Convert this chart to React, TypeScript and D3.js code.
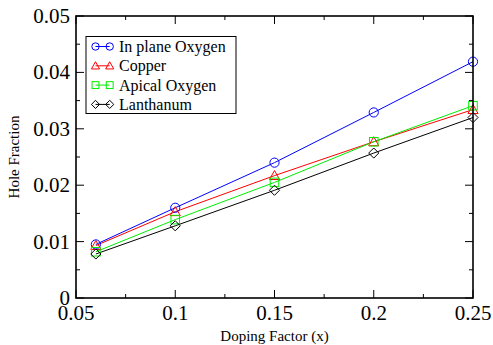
import React, { useRef, useEffect } from "react";
import * as d3 from "d3";

const dopingX = [0.06, 0.1, 0.15, 0.2, 0.25];
const inPlaneOxygen = [0.0095, 0.016, 0.024, 0.0329, 0.0419];
const copper = [0.0093, 0.0153, 0.0217, 0.0277, 0.0334];
const apicalOxygen = [0.0082, 0.0139, 0.0205, 0.0277, 0.0341];
const lanthanum = [0.0078, 0.0128, 0.0191, 0.0257, 0.032];

const seriesNames = ["In plane Oxygen", "Copper", "Apical Oxygen", "Lanthanum"];
const seriesColors = ["#0000ff", "#ff0000", "#00ee00", "#000000"];
const seriesMarkers = ["circle", "triangle", "square", "diamond"];

const xTicks = [0.05, 0.1, 0.15, 0.2, 0.25];
const xTickLabels = ["0.05", "0.1", "0.15", "0.2", "0.25"];
const yTicks = [0, 0.01, 0.02, 0.03, 0.04, 0.05];
const yTickLabels = ["0", "0.01", "0.02", "0.03", "0.04", "0.05"];

const W = 493;
const H = 345;
const margin = { top: 16, right: 20, bottom: 47, left: 76 };

const FONT = "'Liberation Serif', 'Times New Roman', serif";

const drawMarker = (g, kind, x, y, color, s = 4.6) => {
  if (kind === "circle") {
    g.append("circle").attr("cx", x).attr("cy", y).attr("r", s)
      .attr("fill", "none").attr("stroke", color).attr("stroke-width", 1);
  } else if (kind === "triangle") {
    g.append("path")
      .attr("d", `M${x},${y - s * 1.1}L${x + s * 1.1},${y + s * 0.85}L${x - s * 1.1},${y + s * 0.85}Z`)
      .attr("fill", "none").attr("stroke", color).attr("stroke-width", 1);
  } else if (kind === "square") {
    g.append("rect").attr("x", x - s * 0.93).attr("y", y - s * 0.93)
      .attr("width", s * 1.86).attr("height", s * 1.86)
      .attr("fill", "none").attr("stroke", color).attr("stroke-width", 1);
  } else {
    const d = s * 1.1;
    g.append("path")
      .attr("d", `M${x},${y - d}L${x + d},${y}L${x},${y + d}L${x - d},${y}Z`)
      .attr("fill", "none").attr("stroke", color).attr("stroke-width", 1);
  }
};

const Chart = () => {
  const ref = useRef(null);

  useEffect(() => {
    const svg = d3.select(ref.current);
    svg.selectAll("*").remove();

    const x = d3.scaleLinear().domain([0.05, 0.25]).range([margin.left, W - margin.right]);
    const y = d3.scaleLinear().domain([0, 0.05]).range([H - margin.bottom, margin.top]);
    const [x0, x1] = x.range();
    const [y0, y1] = y.range();

    const allSeries = [inPlaneOxygen, copper, apicalOxygen, lanthanum];

    // lines and markers
    const plot = svg.append("g");
    allSeries.forEach((vals, i) => {
      const line = d3.line().x((d) => x(d[0])).y((d) => y(d[1]));
      const pts = dopingX.map((dx, j) => [dx, vals[j]]);
      plot.append("path").attr("d", line(pts)).attr("fill", "none")
        .attr("stroke", seriesColors[i]).attr("stroke-width", 1);
    });
    allSeries.forEach((vals, i) => {
      dopingX.forEach((dx, j) => drawMarker(plot, seriesMarkers[i], x(dx), y(vals[j]), seriesColors[i]));
    });

    // ticks (inward, all four sides)
    const ax = svg.append("g").attr("stroke", "#000").attr("stroke-width", 1);
    const xMinor = d3.range(0.075, 0.25, 0.05);
    xTicks.forEach((t) => {
      ax.append("line").attr("x1", x(t)).attr("x2", x(t)).attr("y1", y0).attr("y2", y0 - 8);
      ax.append("line").attr("x1", x(t)).attr("x2", x(t)).attr("y1", y1).attr("y2", y1 + 8);
    });
    xMinor.forEach((t) => {
      ax.append("line").attr("x1", x(t)).attr("x2", x(t)).attr("y1", y0).attr("y2", y0 - 4);
      ax.append("line").attr("x1", x(t)).attr("x2", x(t)).attr("y1", y1).attr("y2", y1 + 4);
    });
    const yMinor = d3.range(0.005, 0.05, 0.01);
    yTicks.forEach((t) => {
      ax.append("line").attr("y1", y(t)).attr("y2", y(t)).attr("x1", x0).attr("x2", x0 + 8);
      ax.append("line").attr("y1", y(t)).attr("y2", y(t)).attr("x1", x1).attr("x2", x1 - 8);
    });
    yMinor.forEach((t) => {
      ax.append("line").attr("y1", y(t)).attr("y2", y(t)).attr("x1", x0).attr("x2", x0 + 4);
      ax.append("line").attr("y1", y(t)).attr("y2", y(t)).attr("x1", x1).attr("x2", x1 - 4);
    });

    // frame
    svg.append("rect").attr("x", x0).attr("y", y1).attr("width", x1 - x0).attr("height", y0 - y1)
      .attr("fill", "none").attr("stroke", "#000").attr("stroke-width", 1.6);

    // tick labels
    const labels = svg.append("g").attr("font-family", FONT).attr("font-size", 21).attr("fill", "#000");
    xTicks.forEach((t, i) => {
      labels.append("text").attr("x", x(t)).attr("y", y0 + 22).attr("text-anchor", "middle").text(xTickLabels[i]);
    });
    yTicks.forEach((t, i) => {
      labels.append("text").attr("x", x0 - 6).attr("y", y(t) + 7).attr("text-anchor", "end").text(yTickLabels[i]);
    });

    // axis titles
    svg.append("text").attr("x", (x0 + x1) / 2).attr("y", H - 4).attr("text-anchor", "middle")
      .attr("font-family", FONT).attr("font-size", 15).text("Doping Factor (x)");
    svg.append("text").attr("transform", `translate(19, ${(y0 + y1) / 2}) rotate(-90)`)
      .attr("text-anchor", "middle").attr("font-family", FONT).attr("font-size", 15).text("Hole Fraction");

    // legend
    const lg = svg.append("g");
    lg.append("rect").attr("x", 86).attr("y", 36.5).attr("width", 150).attr("height", 77)
      .attr("fill", "#fff").attr("stroke", "#000").attr("stroke-width", 1);
    seriesNames.forEach((name, i) => {
      const ly = 46.5 + i * 19.3;
      lg.append("line").attr("x1", 95.5).attr("x2", 109.7).attr("y1", ly).attr("y2", ly)
        .attr("stroke", seriesColors[i]).attr("stroke-width", 1);
      drawMarker(lg, seriesMarkers[i], 95.5, ly, seriesColors[i], 3.7);
      drawMarker(lg, seriesMarkers[i], 109.7, ly, seriesColors[i], 3.7);
      lg.append("text").attr("x", 119).attr("y", ly + 5.5).attr("font-family", FONT)
        .attr("font-size", 16).text(name);
    });
  }, []);

  return <svg ref={ref} width={W} height={H} style={{ display: "block" }} />;
};

export default function App() {
  return (
    <div style={{ position: "absolute", left: 0, top: 0, background: "#fff" }}>
      <Chart />
    </div>
  );
}
